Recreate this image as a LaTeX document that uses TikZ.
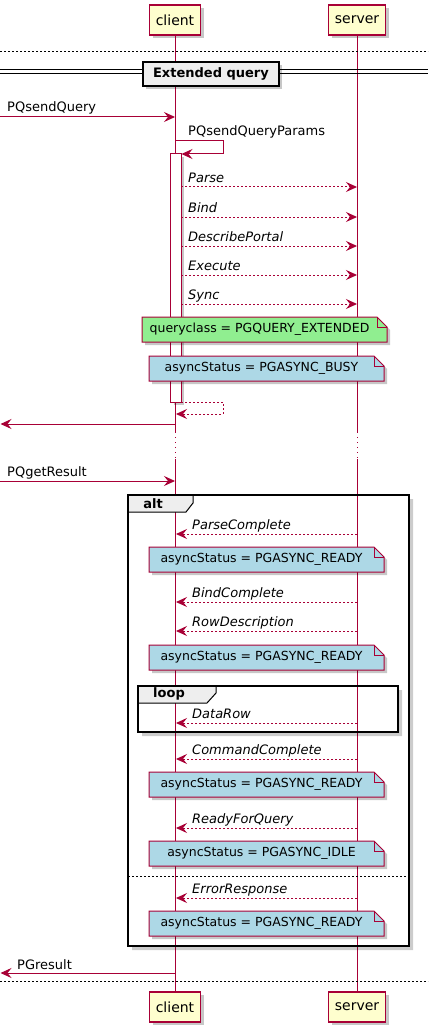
\documentclass[tikz,border=0pt]{standalone}
\usepackage{fontspec}
\setmainfont{DejaVu Sans}
\usetikzlibrary{arrows.meta,shadows}

\definecolor{pumlred}{HTML}{A80036}
\definecolor{partfill}{HTML}{FEFECE}
\definecolor{tabgray}{HTML}{EEEEEE}
\definecolor{notegreen}{HTML}{90EE90}
\definecolor{noteblue}{HTML}{ADD8E6}

\tikzset{
  shade/.style={drop shadow={shadow xshift=3pt,shadow yshift=-3pt,fill=black,opacity=0.22}},
  participant/.style={draw=pumlred,fill=partfill,line width=1.2pt,minimum height=30pt,
    inner sep=0pt,font=\fontsize{14}{16}\selectfont,shade},
  lifeline/.style={draw=pumlred,line width=1pt},
  tip/.style={-{Stealth[length=11pt,width=10pt,inset=4pt]}},
  msg/.style={draw=pumlred,line width=1pt,tip},
  reply/.style={msg,dash pattern=on 2pt off 2pt},
  lbl/.style={font=\fontsize{13}{15}\selectfont,inner sep=0pt},
  ilbl/.style={lbl,font=\fontsize{13}{15}\selectfont\itshape},
  notestyle/.style={draw=pumlred,line width=1pt,shade},
  notetext/.style={font=\fontsize{12.5}{15}\selectfont,inner sep=0pt},
  framebox/.style={draw=black,line width=2pt},
  tabbox/.style={draw=black,line width=1pt,fill=tabgray},
  framelbl/.style={font=\fontsize{13}{15}\selectfont\bfseries,inner sep=0pt},
  sepline/.style={draw=black,line width=0.8pt,dash pattern=on 2pt off 2pt},
}

% note with a folded corner: name, x1, y1, x2, y2, fill, text
\newcommand\notebox[7]{%
  \path[notestyle,fill=#6] (#2,#3) -- ({#4-10},#3) -- (#4,{#3+10}) -- (#4,#5) -- (#2,#5) -- cycle;
  \draw[pumlred,line width=1pt] ({#4-10},#3) -- ({#4-10},{#3+10}) -- (#4,{#3+10});
  \node[notetext] (#1) at ({(#2+#4-10)/2},{(#3+#5)/2}) {#7};}

% soft shadow along the right and bottom edges of a frame
\newcommand\frameshadow[4]{%
  \fill[black,opacity=0.2] (#3,{#2+4}) -- ({#3+4},{#2+4}) -- ({#3+4},{#4+4}) -- ({#1+4},{#4+4})
    -- ({#1+4},#4) -- (#3,#4) -- cycle;}

\begin{document}
\begin{tikzpicture}[x=1pt,y=-1pt]
\useasboundingbox (0,0) rectangle (428,1035);
\fill[white] (0,0) rectangle (428,1035);

% participants
\node[participant,minimum width=51pt] (ct) at (175,20) {client};
\node[participant,minimum width=57pt] (st) at (357,20) {server};
\node[participant,minimum width=51pt] (cb) at (175,1007) {client};
\node[participant,minimum width=57pt] (sb) at (357,1007) {server};

% lifelines with the delay gap
\coordinate (cd1) at (175,432);
\coordinate (cd2) at (175,459);
\coordinate (sd1) at (357,432);
\coordinate (sd2) at (357,459);
\draw[lifeline] (ct.south) -- (cd1);
\draw[lifeline,dash pattern=on 1pt off 4pt] (cd1) -- (cd2);
\draw[lifeline] (cd2) -- (cb.north);
\draw[lifeline] (st.south) -- (sd1);
\draw[lifeline,dash pattern=on 1pt off 4pt] (sd1) -- (sd2);
\draw[lifeline] (sd2) -- (sb.north);

% top and bottom separators
\coordinate (t1) at (0,51);
\coordinate (t2) at (428,51);
\coordinate (b1) at (0,981);
\coordinate (b2) at (428,981);
\draw[sepline] (t1) -- (t2);
\draw[sepline] (b1) -- (b2);

% section divider
\coordinate (d1) at (0,70);
\coordinate (d2) at (428,70);
\coordinate (d3) at (0,73.5);
\coordinate (d4) at (428,73.5);
\draw[black,line width=1pt] (d1) -- (d2);
\draw[black,line width=1pt] (d3) -- (d4);
\path[draw=black,line width=1.6pt,fill=tabgray,shade] (143,62) rectangle (279,86);
\node[framelbl] (sect) at (211,74) {Extended query};

% PQsendQuery
\coordinate (in1) at (0,117);
\coordinate (c1) at (175,117);
\draw[msg] (in1) -- (c1);
\node[lbl,anchor=base west] (lq) at (7,112) {PQsendQuery};

% self call PQsendQueryParams
\coordinate (sc1) at (175,141);
\coordinate (sc2) at (223,141);
\coordinate (sc3) at (223,154);
\coordinate (sc4) at (181.5,154);
\draw[msg] (sc1) -- (sc2) -- (sc3) -- (sc4);
\node[lbl,anchor=base west] (lqp) at (188,136) {PQsendQueryParams};

% activation bar
\path[draw=pumlred,line width=1pt,fill=white,shade] (170.5,154) rectangle (181,402);

% frontend messages to the server
\foreach \n/\y/\t in {parse/187/Parse,bind/217/Bind,describe/246/DescribePortal,
    execute/275/Execute,sync/304/Sync}{
  \coordinate (a-\n) at (181,\y);
  \coordinate (s-\n) at (357,\y);
  \draw[reply] (a-\n) -- (s-\n);
  \node[ilbl,anchor=base west] (l-\n) at ([xshift=7pt,yshift=4.5pt]a-\n) {\t};
}

\notebox{nq}{142}{317}{387}{342}{notegreen}{queryclass = PGQUERY\_EXTENDED}
\notebox{nb}{149}{356}{384}{381}{noteblue}{asyncStatus = PGASYNC\_BUSY}

% return from the self call
\coordinate (r1) at (181,402);
\coordinate (r2) at (223,402);
\coordinate (r3) at (223,414);
\coordinate (r4) at (176,414);
\draw[reply] (r1) -- (r2) -- (r3) -- (r4);

% return to the caller
\coordinate (c2) at (175,424);
\coordinate (out1) at (0.5,424);
\draw[msg] (c2) -- (out1);

% PQgetResult
\coordinate (in2) at (0,481);
\coordinate (c3) at (175,481);
\draw[msg] (in2) -- (c3);
\node[lbl,anchor=base west] (lg) at (7,476) {PQgetResult};

% alt frame
\frameshadow{128}{495}{409}{946}
\path[tabbox] (128,495) -- (193,495) -- (193,503) -- (186,512) -- (128,512) -- cycle;
\node[framelbl] (alt) at (153,503.5) {alt};
\draw[framebox] (128,495) rectangle (409,946);
\coordinate (e1) at (128,876);
\coordinate (e2) at (409,876);
\draw[sepline] (e1) -- (e2);

% loop frame
\frameshadow{138}{686}{398}{732}
\path[tabbox] (138,686) -- (216,686) -- (216,693) -- (207,703) -- (138,703) -- cycle;
\node[framelbl] (loop) at (169,694) {loop};
\draw[framebox] (138,686) rectangle (398,732);

% backend messages to the client
\foreach \n/\y/\t in {pc/534/ParseComplete,bc/602/BindComplete,rd/631/RowDescription,
    dr/723/DataRow,cc/759/CommandComplete,rq/828/ReadyForQuery,er/898/ErrorResponse}{
  \coordinate (s-\n) at (357,\y);
  \coordinate (c-\n) at (176,\y);
  \draw[reply] (s-\n) -- (c-\n);
  \node[ilbl,anchor=base west] (l-\n) at ([xshift=16pt,yshift=5pt]c-\n) {\t};
}

\notebox{n1}{149}{547}{384}{572}{noteblue}{asyncStatus = PGASYNC\_READY}
\notebox{n2}{149}{645}{384}{670}{noteblue}{asyncStatus = PGASYNC\_READY}
\notebox{n3}{149}{772}{384}{797}{noteblue}{asyncStatus = PGASYNC\_READY}
\notebox{n4}{149}{841}{384}{866}{noteblue}{asyncStatus = PGASYNC\_IDLE}
\notebox{n5}{149}{911}{384}{936}{noteblue}{asyncStatus = PGASYNC\_READY}

% PGresult
\coordinate (c4) at (175,973);
\coordinate (out2) at (0.5,973);
\draw[msg] (c4) -- (out2);
\node[lbl,anchor=base west] (lr) at (17,969) {PGresult};
\end{tikzpicture}
\end{document}
